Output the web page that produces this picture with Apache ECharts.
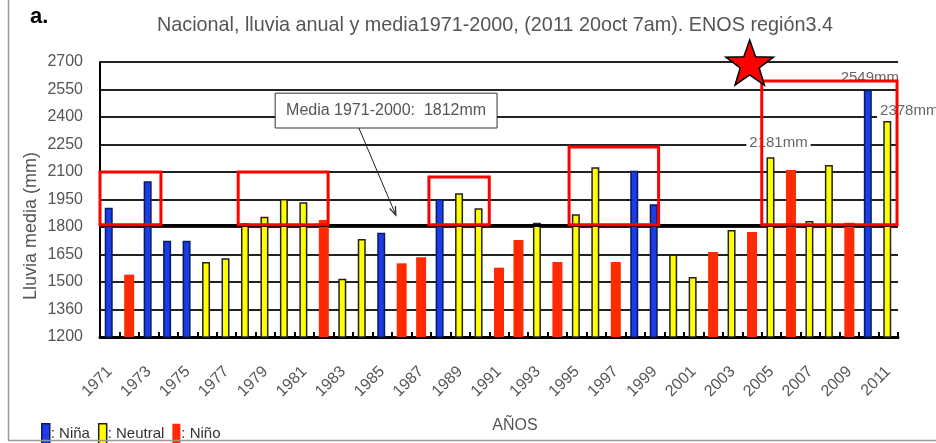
<!DOCTYPE html>
<html><head><meta charset="utf-8">
<script src="https://cdn.jsdelivr.net/npm/echarts@6/dist/echarts.min.js"></script>
<style>html,body{margin:0;padding:0;background:#fff}#c{width:936px;height:443px}</style>
</head><body><div id="c"></div>
<script>
// ---------- DATA ----------
const years = ['1971','1972','1973','1974','1975','1976','1977','1978','1979','1980',
  '1981','1982','1983','1984','1985','1986','1987','1988','1989','1990',
  '1991','1992','1993','1994','1995','1996','1997','1998','1999','2000',
  '2001','2002','2003','2004','2005','2006','2007','2008','2009','2010','2011'];
const rainfall = [1905,1540,2050,1725,1725,1609,1629,1820,1856,1953,
  1935,1838,1518,1735,1769,1602,1635,1953,1984,1902,
  1578,1729,1823,1609,1869,2126,1609,2107,1924,1650,
  1527,1664,1784,1773,2181,2111,1833,2138,1823,2549,2378];
// ENOS phase per year
const phase = ['Niña','Niño','Niña','Niña','Niña','Neutral','Neutral','Neutral','Neutral','Neutral',
  'Neutral','Niño','Neutral','Neutral','Niña','Niño','Niño','Niña','Neutral','Neutral',
  'Niño','Niño','Neutral','Niño','Neutral','Neutral','Niño','Niña','Niña','Neutral',
  'Neutral','Niño','Neutral','Niño','Neutral','Niño','Neutral','Neutral','Niño','Niña','Neutral'];
const phaseNames = ['Niña','Neutral','Niño'];
const yTickLabels = ['1200','1360','1500','1650','1800','1950','2100','2250','2400','2550','2700'];
const meanValue = 1812;
const meanText = 'Media 1971-2000:  1812mm';
const labeledYears = ['2005','2010','2011'];
const titleText = 'Nacional, lluvia anual y media1971-2000, (2011 20oct 7am). ENOS región3.4';

// ---------- STYLE ----------
const FONT = "'Liberation Sans', Arial, sans-serif";
const phaseColor = {'Niña':'#1a3de6','Neutral':'#ffff00','Niño':'#ff2a00'};
const TXT = '#555';

const chart = echarts.init(document.getElementById('c'), null, {renderer:'canvas'});

const labelCfg = {
  '2005': {distance: 6, offset:[8,0]},
  '2010': {distance: 3, offset:[2,0]},
  '2011': {distance: 2, offset:[22,0]}
};

function seriesFor(p){
  return {
    name: p, type: 'bar', barGap: '-100%',
    barWidth: p === 'Niño' ? 10 : 8,
    itemStyle: {color: phaseColor[p], borderColor: p === 'Niño' ? phaseColor[p] : (p==='Niña' ? '#0a1a60' : '#222'), borderWidth: p === 'Niño' ? 0 : 1.5},
    data: rainfall.map((v,i) => {
      if (phase[i] !== p) return '-';
      if (labeledYears.includes(years[i])) {
        const c = labelCfg[years[i]];
        return {value: v, label: {show: true, position: 'top', distance: c.distance, offset: c.offset,
          formatter: v + 'mm', color: '#666', fontFamily: FONT, fontSize: 15,
          backgroundColor: '#fff', padding: [1,3]}};
      }
      return v;
    }),
    markLine: p === 'Niña' ? {
      silent: true, symbol: 'none', label: {show:false},
      lineStyle: {color:'#000', width: 3, type:'solid'},
      data: [{yAxis: meanValue}]
    } : undefined,
    z: 2
  };
}

const option = {
  animation: false,
  backgroundColor: '#fff',
  textStyle: {fontFamily: FONT},
  title: {
    text: titleText, left: 152, top: 11,
    textStyle: {fontFamily: FONT, fontSize: 19.8, fontWeight: 'normal', color: TXT}
  },
  legend: {
    left: 36, top: 418, itemWidth: 8, itemHeight: 21, itemGap: 8,
    icon: 'rect',
    data: phaseNames.map(n => ({name: n, itemStyle: {color: phaseColor[n], borderColor: n==='Niño'?phaseColor[n]:(n==='Niña'?'#0a1a60':'#222'), borderWidth: n==='Niño'?0:1.5}})),
    formatter: n => ': ' + n,
    textStyle: {fontFamily: FONT, fontSize: 15, color: '#333', padding:[0,0,0,-4]}
  },
  grid: {left: 100, right: 38, top: 62, bottom: 106, containLabel: false},
  xAxis: {
    type: 'category', data: years, boundaryGap: true,
    axisLine: {lineStyle: {color:'#000', width: 3}},
    axisTick: {show: true, inside: true, length: 5, interval: 0, lineStyle: {color:'#000', width: 2}},
    axisLabel: {interval: 1, rotate: 45, margin: 32, fontSize: 16, color: TXT, fontFamily: FONT},
    name: 'AÑOS', nameLocation: 'middle', nameGap: 81,
    nameTextStyle: {fontSize: 16, color: TXT, fontFamily: FONT, padding:[0,0,0,32]}
  },
  yAxis: {
    type: 'value', min: 1200, max: 2700, interval: 150,
    axisLine: {show: true, lineStyle: {color:'#000', width: 2}},
    axisTick: {show: false},
    splitLine: {lineStyle: {color:'#222', width: 2}},
    axisLabel: {
      margin: 17, fontSize: 16, color: TXT, fontFamily: FONT,
      formatter: v => yTickLabels[Math.round((v - 1200) / 150)]
    }
  },
  series: phaseNames.map(seriesFor)
};
chart.setOption(option);

// ---------- ANNOTATIONS (placed through the axes) ----------
const xa = chart.convertToPixel({xAxisIndex:0}, 0);
const xb = chart.convertToPixel({xAxisIndex:0}, 1);
const band = xb - xa;
const X = i => xa + i * band;           // fractional category index -> px
const Y = v => chart.convertToPixel({yAxisIndex:0}, v);

// red highlight boxes: [fromIndex, toIndex, lowValue, highValue]
const boxes = [[-0.5, 2.63, meanValue, 2100], [6.6, 11.22, meanValue, 2100],
  [16.4, 19.5, meanValue, 2073], [23.6, 28.2, meanValue, 2236], [33.5, 40.45, meanValue, 2596]];
const g = [];
boxes.forEach(b => {
  g.push({type:'rect', z: 50, shape:{x: X(b[0]), y: Y(b[3]), width: X(b[1]) - X(b[0]), height: Y(b[2]) - Y(b[3])},
    style:{fill:'none', stroke:'#ff0000', lineWidth: 3}});
});
// Media box and arrow
const mbx0 = X(8.5), mbx1 = X(19.9), mby0 = Y(2530), mby1 = Y(2340);
g.push({type:'rect', z: 40, shape:{x: mbx0, y: mby0, width: mbx1 - mbx0, height: mby1 - mby0},
  style:{fill:'#fff', stroke:'#333', lineWidth: 1}});
g.push({type:'text', z: 41, x: (mbx0 + mbx1) / 2, y: (mby0 + mby1) / 2,
  style:{text: meanText, fill: TXT, font: '16px ' + FONT, align:'center', verticalAlign:'middle'}});
const ax0 = X(12.8), ay0 = mby1, ax1 = X(14.7), ay1 = Y(1865);
g.push({type:'line', z: 41, shape:{x1: ax0, y1: ay0, x2: ax1, y2: ay1}, style:{stroke:'#222', lineWidth: 1}});
const ang = Math.atan2(ay1 - ay0, ax1 - ax0), ah = 9, aw = 0.35;
g.push({type:'polyline', z: 41, shape:{points:[
  [ax1 - ah*Math.cos(ang - aw), ay1 - ah*Math.sin(ang - aw)], [ax1, ay1],
  [ax1 - ah*Math.cos(ang + aw), ay1 - ah*Math.sin(ang + aw)]]}, style:{stroke:'#222', lineWidth: 1.2, fill:'none'}});
// star
const sc = [X(32.88), Y(2684)], R = 25, r = 10, pts = [];
for (let k = 0; k < 10; k++) {
  const a = -Math.PI/2 + k * Math.PI / 5, rr = k % 2 ? r : R;
  pts.push([sc[0] + rr*Math.cos(a), sc[1] + rr*Math.sin(a)]);
}
g.push({type:'polygon', z: 60, shape:{points: pts}, style:{fill:'#ff0000', stroke:'#000', lineWidth: 1.5}});
// panel label, y-axis title, frame lines
g.push({type:'text', z: 10, left: 30, top: 6, style:{text:'a.', font:'bold 22px ' + FONT, fill:'#000'}});
g.push({type:'text', z: 10, x: 31, y: Y(1805), rotation: Math.PI/2,
  style:{text:'Lluvia media (mm)', font:'18px ' + FONT, fill: TXT, align:'center', verticalAlign:'middle'}});
g.push({type:'line', z: 10, shape:{x1: 8.5, y1: 0, x2: 8.5, y2: 441}, style:{stroke:'#999', lineWidth: 1.5}});
g.push({type:'line', z: 10, shape:{x1: 8, y1: 440.5, x2: 936, y2: 440.5}, style:{stroke:'#999', lineWidth: 1.5}});
chart.setOption({graphic: g});
</script>
</body></html>
